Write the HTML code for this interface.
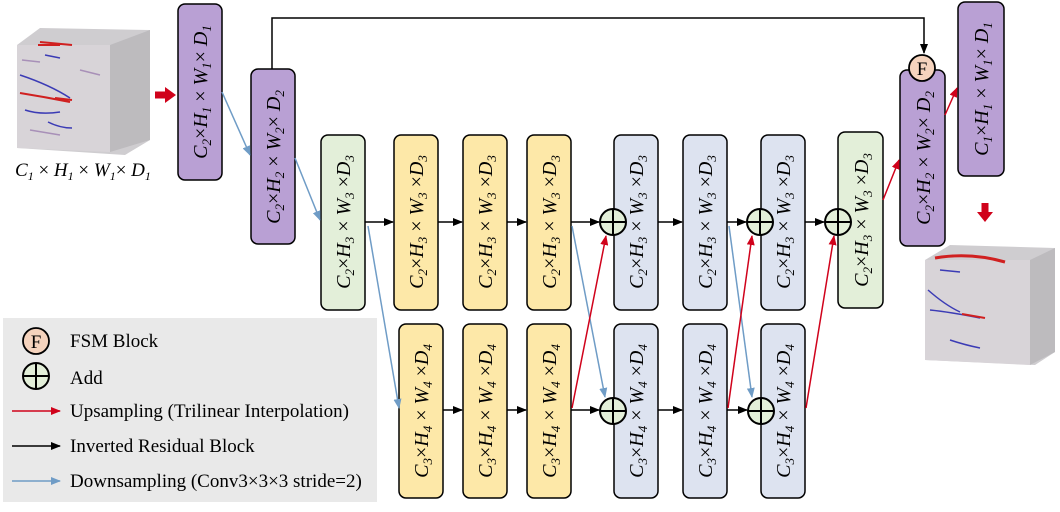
<!DOCTYPE html>
<html><head><meta charset="utf-8"><style>
html,body{margin:0;padding:0;background:#fff;}
svg{display:block;font-family:"Liberation Serif",serif;}
.bx text{font-style:italic;font-size:20px;}
</style></head><body>
<svg width="1060" height="512" viewBox="0 0 1060 512" xmlns="http://www.w3.org/2000/svg">
<defs>
<marker id="ak" markerWidth="10" markerHeight="8" refX="9" refY="4" orient="auto" markerUnits="userSpaceOnUse"><path d="M0,0 L10,4 L0,8 z" fill="#000"/></marker>
<marker id="ar" markerWidth="10" markerHeight="8" refX="9" refY="4" orient="auto" markerUnits="userSpaceOnUse"><path d="M0,0 L10,4 L0,8 z" fill="#d0021b"/></marker>
<marker id="ab" markerWidth="10" markerHeight="8" refX="9" refY="4" orient="auto" markerUnits="userSpaceOnUse"><path d="M0,0 L10,4 L0,8 z" fill="#6f9cc6"/></marker>
</defs>

<rect x="3" y="318" width="374" height="184" fill="#e9e9e9"/>

<!-- left cube -->
<polygon points="17,45 40,28 150,30 150,140 125,155 17,148" fill="#cfcdd0"/>
<polygon points="110,45 150,30 150,140 110,152" fill="#bdbbbe"/>
<polygon points="17,45 110,45 110,152 17,148" fill="#d8d4d8"/>
<path d="M20,75 Q50,85 70,98 M48,122 Q60,128 72,128 M45,55 L60,58 M25,110 Q40,115 60,112" stroke="#3b3bb5" stroke-width="1.5" fill="none"/>
<path d="M38,45 L60,45 M20,93 Q45,97 70,102 M55,98 L72,100 M40,42 L72,45" stroke="#d02020" stroke-width="2" fill="none"/>
<path d="M22,60 L40,62 M30,130 L60,135 M80,70 L100,75" stroke="#a890b8" stroke-width="1.5" fill="none"/>
<text x="15" y="176" font-size="19" font-style="italic">C<tspan font-size="12" dy="4">1</tspan><tspan dy="-4" font-style="normal"> × </tspan>H<tspan font-size="12" dy="4">1</tspan><tspan dy="-4" font-style="normal"> × </tspan>W<tspan font-size="12" dy="4">1</tspan><tspan dy="-4" font-style="normal">× </tspan>D<tspan font-size="12" dy="4">1</tspan></text>

<!-- right cube -->
<polygon points="925,260 950,245 1055,248 1055,352 1035,365 925,360" fill="#cfcdd0"/>
<polygon points="1030,260 1055,248 1055,352 1030,365" fill="#bdbbbe"/>
<polygon points="925,260 1030,260 1030,365 925,360" fill="#d8d4d8"/>
<path d="M935,258 Q970,252 1005,262" stroke="#d02020" stroke-width="3" fill="none"/>
<path d="M928,290 Q945,305 960,312 M930,310 Q950,312 980,318 M950,340 Q965,345 980,348 M940,270 L960,272" stroke="#3b3bb5" stroke-width="1.5" fill="none"/>
<path d="M962,314 L985,318" stroke="#d02020" stroke-width="2" fill="none"/>

<path d="M155,95 L166,95" stroke="#d0021b" stroke-width="7"/>
<polygon points="165,87 176,95 165,103" fill="#d0021b"/>
<path d="M985,203 L985,213" stroke="#d0021b" stroke-width="7"/>
<polygon points="977,212 993,212 985,222" fill="#d0021b"/>

<path d="M272,69 L272,18 L924,18 L924,53" stroke="#000" stroke-width="1.5" fill="none" marker-end="url(#ak)"/>

<g stroke="#000" stroke-width="1.5">
<rect x="178" y="4" width="44" height="176" rx="7" fill="#b9a0d4"/>
<rect x="251" y="69" width="44" height="175" rx="7" fill="#b9a0d4"/>
<rect x="321" y="135" width="44" height="175" rx="7" fill="#e3efd9"/>
<rect x="394" y="135" width="44" height="175" rx="7" fill="#fde8a8"/>
<rect x="463" y="135" width="44" height="175" rx="7" fill="#fde8a8"/>
<rect x="527" y="135" width="44" height="175" rx="7" fill="#fde8a8"/>
<rect x="614" y="135" width="44" height="175" rx="7" fill="#dde3f0"/>
<rect x="683" y="135" width="44" height="175" rx="7" fill="#dde3f0"/>
<rect x="761" y="135" width="44" height="175" rx="7" fill="#dde3f0"/>
<rect x="838" y="132" width="45" height="176" rx="7" fill="#e3efd9"/>
<rect x="900" y="70" width="45" height="176" rx="7" fill="#b9a0d4"/>
<rect x="958" y="2" width="46" height="174" rx="7" fill="#b9a0d4"/>
<rect x="399" y="324" width="44" height="174" rx="7" fill="#fde8a8"/>
<rect x="463" y="324" width="44" height="174" rx="7" fill="#fde8a8"/>
<rect x="527" y="324" width="44" height="174" rx="7" fill="#fde8a8"/>
<rect x="614" y="324" width="44" height="174" rx="7" fill="#dde3f0"/>
<rect x="683" y="324" width="44" height="174" rx="7" fill="#dde3f0"/>
<rect x="761" y="324" width="44" height="174" rx="7" fill="#dde3f0"/>
</g>

<g class="bx" text-anchor="middle">
<text transform="translate(207,92) rotate(-90)">C<tspan font-size="13" dy="4">2</tspan><tspan dy="-4" font-style="normal">×</tspan>H<tspan font-size="13" dy="4">1</tspan><tspan dy="-4" font-style="normal"> × </tspan>W<tspan font-size="13" dy="4">1</tspan><tspan dy="-4" font-style="normal">× </tspan>D<tspan font-size="13" dy="4">1</tspan></text>
<text transform="translate(280,157) rotate(-90)">C<tspan font-size="13" dy="4">2</tspan><tspan dy="-4" font-style="normal">×</tspan>H<tspan font-size="13" dy="4">2</tspan><tspan dy="-4" font-style="normal"> × </tspan>W<tspan font-size="13" dy="4">2</tspan><tspan dy="-4" font-style="normal">× </tspan>D<tspan font-size="13" dy="4">2</tspan></text>
<text transform="translate(350,222) rotate(-90)">C<tspan font-size="13" dy="4">2</tspan><tspan dy="-4" font-style="normal">×</tspan>H<tspan font-size="13" dy="4">3</tspan><tspan dy="-4" font-style="normal"> × </tspan>W<tspan font-size="13" dy="4">3</tspan><tspan dy="-4" font-style="normal"> ×</tspan>D<tspan font-size="13" dy="4">3</tspan></text>
<text transform="translate(423,222) rotate(-90)">C<tspan font-size="13" dy="4">2</tspan><tspan dy="-4" font-style="normal">×</tspan>H<tspan font-size="13" dy="4">3</tspan><tspan dy="-4" font-style="normal"> × </tspan>W<tspan font-size="13" dy="4">3</tspan><tspan dy="-4" font-style="normal"> ×</tspan>D<tspan font-size="13" dy="4">3</tspan></text>
<text transform="translate(492,222) rotate(-90)">C<tspan font-size="13" dy="4">2</tspan><tspan dy="-4" font-style="normal">×</tspan>H<tspan font-size="13" dy="4">3</tspan><tspan dy="-4" font-style="normal"> × </tspan>W<tspan font-size="13" dy="4">3</tspan><tspan dy="-4" font-style="normal"> ×</tspan>D<tspan font-size="13" dy="4">3</tspan></text>
<text transform="translate(556,222) rotate(-90)">C<tspan font-size="13" dy="4">2</tspan><tspan dy="-4" font-style="normal">×</tspan>H<tspan font-size="13" dy="4">3</tspan><tspan dy="-4" font-style="normal"> × </tspan>W<tspan font-size="13" dy="4">3</tspan><tspan dy="-4" font-style="normal"> ×</tspan>D<tspan font-size="13" dy="4">3</tspan></text>
<text transform="translate(643,222) rotate(-90)">C<tspan font-size="13" dy="4">2</tspan><tspan dy="-4" font-style="normal">×</tspan>H<tspan font-size="13" dy="4">3</tspan><tspan dy="-4" font-style="normal"> × </tspan>W<tspan font-size="13" dy="4">3</tspan><tspan dy="-4" font-style="normal"> ×</tspan>D<tspan font-size="13" dy="4">3</tspan></text>
<text transform="translate(712,222) rotate(-90)">C<tspan font-size="13" dy="4">2</tspan><tspan dy="-4" font-style="normal">×</tspan>H<tspan font-size="13" dy="4">3</tspan><tspan dy="-4" font-style="normal"> × </tspan>W<tspan font-size="13" dy="4">3</tspan><tspan dy="-4" font-style="normal"> ×</tspan>D<tspan font-size="13" dy="4">3</tspan></text>
<text transform="translate(790,222) rotate(-90)">C<tspan font-size="13" dy="4">2</tspan><tspan dy="-4" font-style="normal">×</tspan>H<tspan font-size="13" dy="4">3</tspan><tspan dy="-4" font-style="normal"> × </tspan>W<tspan font-size="13" dy="4">3</tspan><tspan dy="-4" font-style="normal"> ×</tspan>D<tspan font-size="13" dy="4">3</tspan></text>
<text transform="translate(868,220) rotate(-90)">C<tspan font-size="13" dy="4">2</tspan><tspan dy="-4" font-style="normal">×</tspan>H<tspan font-size="13" dy="4">3</tspan><tspan dy="-4" font-style="normal"> × </tspan>W<tspan font-size="13" dy="4">3</tspan><tspan dy="-4" font-style="normal"> ×</tspan>D<tspan font-size="13" dy="4">3</tspan></text>
<text transform="translate(930,158) rotate(-90)">C<tspan font-size="13" dy="4">2</tspan><tspan dy="-4" font-style="normal">×</tspan>H<tspan font-size="13" dy="4">2</tspan><tspan dy="-4" font-style="normal"> × </tspan>W<tspan font-size="13" dy="4">2</tspan><tspan dy="-4" font-style="normal">× </tspan>D<tspan font-size="13" dy="4">2</tspan></text>
<text transform="translate(988,89) rotate(-90)">C<tspan font-size="13" dy="4">1</tspan><tspan dy="-4" font-style="normal">×</tspan>H<tspan font-size="13" dy="4">1</tspan><tspan dy="-4" font-style="normal"> × </tspan>W<tspan font-size="13" dy="4">1</tspan><tspan dy="-4" font-style="normal">× </tspan>D<tspan font-size="13" dy="4">1</tspan></text>
<text transform="translate(428,411) rotate(-90)">C<tspan font-size="13" dy="4">3</tspan><tspan dy="-4" font-style="normal">×</tspan>H<tspan font-size="13" dy="4">4</tspan><tspan dy="-4" font-style="normal"> × </tspan>W<tspan font-size="13" dy="4">4</tspan><tspan dy="-4" font-style="normal"> ×</tspan>D<tspan font-size="13" dy="4">4</tspan></text>
<text transform="translate(492,411) rotate(-90)">C<tspan font-size="13" dy="4">3</tspan><tspan dy="-4" font-style="normal">×</tspan>H<tspan font-size="13" dy="4">4</tspan><tspan dy="-4" font-style="normal"> × </tspan>W<tspan font-size="13" dy="4">4</tspan><tspan dy="-4" font-style="normal"> ×</tspan>D<tspan font-size="13" dy="4">4</tspan></text>
<text transform="translate(556,411) rotate(-90)">C<tspan font-size="13" dy="4">3</tspan><tspan dy="-4" font-style="normal">×</tspan>H<tspan font-size="13" dy="4">4</tspan><tspan dy="-4" font-style="normal"> × </tspan>W<tspan font-size="13" dy="4">4</tspan><tspan dy="-4" font-style="normal"> ×</tspan>D<tspan font-size="13" dy="4">4</tspan></text>
<text transform="translate(643,411) rotate(-90)">C<tspan font-size="13" dy="4">3</tspan><tspan dy="-4" font-style="normal">×</tspan>H<tspan font-size="13" dy="4">4</tspan><tspan dy="-4" font-style="normal"> × </tspan>W<tspan font-size="13" dy="4">4</tspan><tspan dy="-4" font-style="normal"> ×</tspan>D<tspan font-size="13" dy="4">4</tspan></text>
<text transform="translate(712,411) rotate(-90)">C<tspan font-size="13" dy="4">3</tspan><tspan dy="-4" font-style="normal">×</tspan>H<tspan font-size="13" dy="4">4</tspan><tspan dy="-4" font-style="normal"> × </tspan>W<tspan font-size="13" dy="4">4</tspan><tspan dy="-4" font-style="normal"> ×</tspan>D<tspan font-size="13" dy="4">4</tspan></text>
<text transform="translate(790,411) rotate(-90)">C<tspan font-size="13" dy="4">3</tspan><tspan dy="-4" font-style="normal">×</tspan>H<tspan font-size="13" dy="4">4</tspan><tspan dy="-4" font-style="normal"> × </tspan>W<tspan font-size="13" dy="4">4</tspan><tspan dy="-4" font-style="normal"> ×</tspan>D<tspan font-size="13" dy="4">4</tspan></text>
</g>

<g stroke="#000" stroke-width="1.5" marker-end="url(#ak)">
<line x1="365" y1="222" x2="393" y2="222"/>
<line x1="438" y1="222" x2="462" y2="222"/>
<line x1="507" y1="222" x2="526" y2="222"/>
<line x1="571" y1="222" x2="599" y2="222"/>
<line x1="658" y1="222" x2="682" y2="222"/>
<line x1="727" y1="222" x2="746" y2="222"/>
<line x1="805" y1="222" x2="824" y2="222"/>
<line x1="443" y1="410" x2="462" y2="410"/>
<line x1="507" y1="410" x2="526" y2="410"/>
<line x1="571" y1="410" x2="599" y2="410"/>
<line x1="658" y1="410" x2="682" y2="410"/>
<line x1="727" y1="410" x2="747" y2="410"/>
</g>
<g stroke="#6f9cc6" stroke-width="1.5" marker-end="url(#ab)">
<line x1="222" y1="92" x2="250" y2="155"/>
<line x1="295" y1="158" x2="320" y2="220"/>
<line x1="368" y1="226" x2="399" y2="408"/>
<line x1="572" y1="226" x2="605" y2="397"/>
<line x1="729" y1="226" x2="752" y2="397"/>
</g>
<g stroke="#d0021b" stroke-width="1.5" marker-end="url(#ar)">
<line x1="572" y1="408" x2="606" y2="236"/>
<line x1="728" y1="408" x2="752" y2="236"/>
<line x1="806" y1="408" x2="834" y2="236"/>
<line x1="883" y1="200" x2="899" y2="160"/>
<line x1="945" y1="115" x2="957" y2="88"/>
</g>

<g stroke="#000" stroke-width="2" fill="#e3efd9">
<circle cx="613" cy="222" r="13"/><path d="M600,222 H626 M613,209 V235"/>
<circle cx="760" cy="222" r="13"/><path d="M747,222 H773 M760,209 V235"/>
<circle cx="838" cy="222" r="13"/><path d="M825,222 H851 M838,209 V235"/>
<circle cx="613" cy="411" r="13"/><path d="M600,411 H626 M613,398 V424"/>
<circle cx="761" cy="411" r="13"/><path d="M748,411 H774 M761,398 V424"/>
</g>
<circle cx="922" cy="68" r="13" fill="#f5d3bd" stroke="#000" stroke-width="1.8"/>
<text x="922" y="75" font-size="19" text-anchor="middle">F</text>

<circle cx="36" cy="341" r="13" fill="#f5d3bd" stroke="#000" stroke-width="1.8"/>
<text x="36" y="348" font-size="19" text-anchor="middle">F</text>
<text x="70" y="347" font-size="19">FSM Block</text>
<circle cx="36" cy="376" r="13" fill="#e3efd9" stroke="#000" stroke-width="2"/>
<path d="M23,376 H49 M36,363 V389" stroke="#000" stroke-width="2"/>
<text x="70" y="384" font-size="19">Add</text>
<line x1="12" y1="411" x2="60" y2="411" stroke="#d0021b" stroke-width="1.5" marker-end="url(#ar)"/>
<text x="70" y="417" font-size="19">Upsampling (Trilinear Interpolation)</text>
<line x1="12" y1="446" x2="60" y2="446" stroke="#000" stroke-width="1.5" marker-end="url(#ak)"/>
<text x="70" y="452" font-size="19">Inverted Residual Block</text>
<line x1="12" y1="481" x2="60" y2="481" stroke="#6f9cc6" stroke-width="1.5" marker-end="url(#ab)"/>
<text x="70" y="487" font-size="19">Downsampling (Conv3×3×3 stride=2)</text>
</svg>
</body></html>
